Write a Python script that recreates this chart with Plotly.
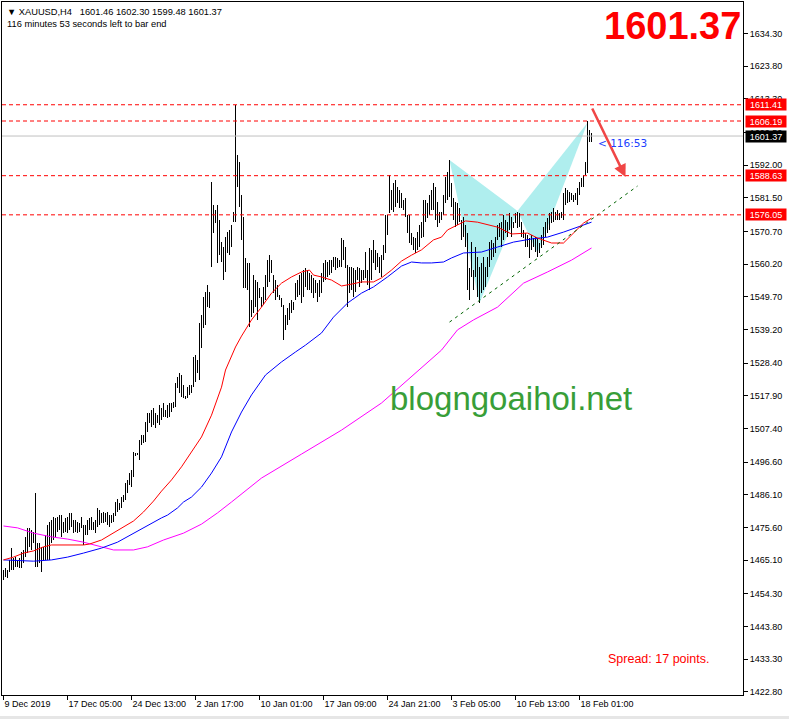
import plotly.graph_objects as go

# ---------------- data ----------------
highs = [
    1462.0, 1462.6, 1462.0, 1465.2, 1469.0, 1465.8, 1466.1, 1465.2, 1465.8, 1467.7,
    1468.4, 1472.6, 1475.5, 1475.5, 1474.8, 1474.2, 1486.7, 1470.6, 1470.6, 1469.4,
    1469.4, 1473.2, 1476.4, 1477.4, 1478.0, 1479.0, 1478.7, 1479.0, 1479.6, 1479.6,
    1477.4, 1478.7, 1479.0, 1480.3, 1480.3, 1478.0, 1478.0, 1477.4, 1477.1, 1479.0,
    1476.4, 1476.4, 1478.0, 1478.7, 1479.0, 1477.4, 1478.0, 1481.9, 1481.2, 1480.3,
    1480.6, 1480.3, 1480.6, 1479.6, 1479.6, 1480.3, 1483.8, 1484.8, 1483.5, 1485.4,
    1486.1, 1489.9, 1490.9, 1493.1, 1494.1, 1499.9, 1499.6, 1499.6, 1503.7, 1505.3,
    1505.3, 1509.5, 1512.4, 1512.4, 1513.4, 1514.0, 1512.4, 1511.8, 1515.0, 1514.0,
    1515.6, 1513.4, 1515.0, 1515.6, 1515.6, 1515.9, 1522.0, 1524.0, 1525.2, 1524.6,
    1521.4, 1517.9, 1520.7, 1521.4, 1521.4, 1530.4, 1531.0, 1529.4, 1541.3, 1543.9,
    1549.7, 1551.3, 1553.5, 1551.3, 1586.6, 1579.2, 1577.6, 1579.2, 1574.4, 1567.3,
    1565.7, 1568.9, 1570.5, 1571.2, 1572.8, 1577.0, 1611.41, 1595.3, 1593.0, 1582.4,
    1575.4, 1562.2, 1560.6, 1560.6, 1548.7, 1556.7, 1555.1, 1554.5, 1552.5, 1549.7,
    1552.9, 1556.7, 1561.5, 1563.1, 1561.5, 1556.7, 1555.1, 1553.5, 1550.3, 1549.3,
    1547.1, 1543.9, 1546.1, 1547.7, 1548.7, 1548.1, 1554.1, 1555.1, 1556.7, 1557.4,
    1558.3, 1559.0, 1558.3, 1557.4, 1556.7, 1555.8, 1555.1, 1554.1, 1555.1, 1557.4,
    1560.6, 1561.5, 1560.9, 1561.5, 1561.5, 1562.5, 1562.5, 1562.2, 1561.5, 1568.6,
    1568.0, 1565.7, 1559.9, 1559.3, 1559.3, 1559.0, 1558.3, 1559.3, 1559.0, 1558.3,
    1558.3, 1564.1, 1558.3, 1565.4, 1564.8, 1568.0, 1564.8, 1563.8, 1562.5, 1563.1,
    1566.4, 1576.0, 1576.0, 1588.9, 1584.0, 1586.3, 1587.2, 1585.0, 1584.0, 1583.1,
    1580.8, 1581.5, 1576.0, 1576.0, 1570.2, 1568.9, 1568.6, 1570.5, 1572.8, 1573.7,
    1580.8, 1580.8, 1579.9, 1582.4, 1584.0, 1586.3, 1585.0, 1580.2, 1577.0, 1577.0,
    1582.4, 1588.2, 1589.8, 1593.7, 1586.3, 1581.5, 1580.2, 1579.9, 1578.2, 1574.4,
    1575.4, 1572.8, 1570.2, 1559.0, 1567.3, 1558.3, 1565.7, 1562.5, 1559.3, 1560.6,
    1562.5, 1559.3, 1562.5, 1567.3, 1568.0, 1567.0, 1568.9, 1572.8, 1573.4, 1573.7,
    1576.0, 1574.4, 1573.7, 1576.6, 1575.4, 1573.7, 1576.6, 1577.0, 1576.6, 1573.7,
    1571.2, 1570.2, 1569.6, 1568.6, 1569.6, 1568.6, 1568.9, 1568.6, 1567.0, 1569.6,
    1572.1, 1573.7, 1575.0, 1576.6, 1577.0, 1578.2, 1577.0, 1577.6, 1576.6, 1577.0,
    1583.1, 1584.7, 1584.0, 1583.4, 1583.1, 1582.4, 1583.1, 1584.7, 1586.6, 1587.9,
    1588.9, 1593.0, 1606.19, 1603.3, 1602.30,
]
lows = [
    1458.8, 1459.7, 1459.4, 1461.3, 1462.0, 1462.0, 1462.9, 1462.9, 1462.6, 1462.6,
    1464.2, 1466.1, 1467.4, 1469.4, 1468.4, 1470.6, 1462.9, 1462.9, 1464.2, 1461.3,
    1465.2, 1465.2, 1465.2, 1465.2, 1470.6, 1471.6, 1472.6, 1474.2, 1474.8, 1472.6,
    1473.9, 1474.2, 1473.9, 1474.8, 1475.8, 1473.9, 1474.2, 1473.9, 1474.2, 1475.5,
    1470.0, 1473.2, 1473.2, 1474.8, 1474.8, 1474.8, 1473.9, 1475.8, 1476.4, 1477.1,
    1477.1, 1477.4, 1476.4, 1475.8, 1477.1, 1477.4, 1479.3, 1480.6, 1481.2, 1481.9,
    1483.8, 1484.5, 1486.7, 1489.3, 1488.6, 1491.8, 1498.6, 1498.9, 1497.3, 1502.1,
    1502.8, 1503.1, 1506.3, 1509.2, 1507.9, 1508.6, 1507.6, 1509.2, 1508.6, 1510.1,
    1511.1, 1511.1, 1510.8, 1511.1, 1512.7, 1514.0, 1514.3, 1520.4, 1518.8, 1517.5,
    1517.2, 1516.9, 1517.2, 1518.2, 1518.8, 1520.7, 1522.3, 1525.2, 1523.0, 1533.3,
    1539.7, 1540.7, 1546.4, 1546.1, 1559.3, 1570.2, 1573.4, 1560.6, 1563.1, 1560.9,
    1555.1, 1557.7, 1563.8, 1563.1, 1565.7, 1573.7, 1573.7, 1585.0, 1578.6, 1568.0,
    1552.5, 1552.5, 1551.9, 1540.0, 1543.2, 1544.5, 1546.4, 1542.3, 1549.3, 1546.4,
    1547.1, 1548.7, 1552.9, 1554.5, 1557.4, 1550.9, 1548.7, 1549.7, 1548.7, 1546.4,
    1535.8, 1539.1, 1540.7, 1542.3, 1544.5, 1545.5, 1548.7, 1549.7, 1550.3, 1547.7,
    1549.7, 1552.9, 1551.9, 1551.9, 1550.9, 1549.3, 1550.9, 1548.1, 1549.7, 1550.9,
    1554.5, 1555.1, 1556.1, 1556.7, 1557.4, 1559.3, 1558.3, 1559.0, 1559.3, 1559.3,
    1561.5, 1559.0, 1546.4, 1550.9, 1551.9, 1549.7, 1551.3, 1555.1, 1552.9, 1554.1,
    1555.1, 1555.8, 1553.5, 1551.9, 1555.1, 1560.6, 1558.3, 1559.3, 1557.4, 1556.1,
    1561.5, 1563.8, 1569.6, 1576.6, 1577.6, 1577.0, 1578.6, 1579.8, 1578.3, 1578.3,
    1577.6, 1575.4, 1570.2, 1567.0, 1566.4, 1564.8, 1563.8, 1564.8, 1565.7, 1568.6,
    1568.9, 1573.7, 1575.0, 1576.0, 1577.6, 1577.6, 1574.4, 1572.1, 1573.4, 1574.4,
    1576.0, 1579.9, 1580.8, 1581.8, 1578.6, 1574.4, 1572.1, 1572.8, 1573.7, 1568.0,
    1568.9, 1565.7, 1551.9, 1548.7, 1556.1, 1551.9, 1556.1, 1549.7, 1547.7, 1550.9,
    1551.9, 1552.9, 1556.1, 1559.3, 1561.5, 1562.5, 1563.8, 1568.0, 1568.9, 1565.7,
    1568.0, 1570.2, 1568.9, 1571.2, 1568.9, 1571.8, 1573.4, 1571.8, 1572.1, 1568.9,
    1568.6, 1565.7, 1565.7, 1562.2, 1564.8, 1565.7, 1564.1, 1562.5, 1563.8, 1565.4,
    1566.4, 1568.9, 1570.2, 1571.2, 1573.4, 1573.7, 1574.4, 1574.4, 1574.4, 1575.0,
    1574.4, 1579.2, 1579.9, 1580.2, 1580.8, 1580.2, 1580.8, 1579.2, 1582.4, 1585.0,
    1585.0, 1588.9, 1589.5, 1599.5, 1599.48,
]
bar_index = list(range(len(highs)))

x_tick_index = [0, 32, 64, 96, 128, 160, 192, 224, 256, 288]
x_tick_labels = ["9 Dec 2019", "17 Dec 05:00", "24 Dec 13:00", "2 Jan 17:00",
                 "10 Jan 01:00", "17 Jan 09:00", "24 Jan 21:00", "3 Feb 05:00",
                 "10 Feb 13:00", "18 Feb 01:00"]
y_tick_values = [1634.30, 1623.80, 1613.30, 1602.50, 1592.00, 1581.50, 1570.70,
                 1560.20, 1549.70, 1539.20, 1528.40, 1517.90, 1507.40, 1496.60,
                 1486.10, 1475.60, 1465.10, 1454.30, 1443.80, 1433.30, 1422.80]

ma_red_x = [0, 5, 10, 15, 20, 24, 40, 43, 49, 54, 60, 65, 70, 75, 79, 84, 89, 94, 99,
            104, 109, 111, 114, 116, 119, 124, 129, 134, 139, 144, 149, 153, 155, 159,
            164, 169, 174, 179, 185, 189, 194, 199, 204, 209, 215, 219, 222, 227, 231,
            237, 247, 254, 262, 267, 274, 280, 285, 290, 294]
ma_red_y = [1465.2, 1466.1, 1467.4, 1468.1, 1469.4, 1470.0, 1470.0, 1470.3, 1471.6,
            1473.5, 1475.8, 1477.7, 1480.6, 1484.1, 1487.3, 1490.9, 1495.1, 1499.9,
            1504.7, 1511.7, 1520.7, 1526.2, 1530.4, 1533.6, 1537.1, 1542.3, 1546.4,
            1550.9, 1554.1, 1556.1, 1557.7, 1558.3, 1556.7, 1556.1, 1555.1, 1553.2,
            1553.8, 1554.5, 1554.5, 1555.8, 1558.3, 1561.2, 1563.1, 1564.8, 1568.0,
            1568.9, 1571.2, 1572.8, 1574.1, 1573.7, 1572.1, 1569.9, 1570.2, 1568.6,
            1567.0, 1567.0, 1570.2, 1573.4, 1575.0]

ma_blue_x = [0, 15, 24, 32, 40, 49, 57, 65, 74, 79, 82, 87, 90, 94, 99, 104, 109, 114,
             119, 124, 131, 139, 146, 151, 159, 165, 172, 179, 185, 192, 199, 204, 209,
             214, 220, 224, 230, 239, 247, 255, 264, 272, 280, 287, 294]
ma_blue_y = [1465.2, 1464.8, 1465.2, 1466.1, 1467.4, 1469.0, 1470.9, 1473.8, 1477.1,
             1478.7, 1479.6, 1481.9, 1483.8, 1485.4, 1488.6, 1493.1, 1498.3, 1506.3,
             1512.7, 1518.2, 1524.6, 1528.8, 1532.0, 1534.2, 1538.1, 1543.2, 1547.7,
             1550.9, 1552.9, 1556.1, 1559.6, 1560.9, 1560.6, 1560.6, 1560.9, 1562.2,
             1563.8, 1564.1, 1565.7, 1567.3, 1568.3, 1568.9, 1570.5, 1572.1, 1573.7]

ma_magenta_x = [0, 7, 15, 24, 32, 40, 49, 55, 65, 72, 80, 90, 99, 107, 114, 129, 149,
                169, 189, 209, 219, 227, 235, 247, 260, 272, 284, 294]
ma_magenta_y = [1476.1, 1475.5, 1473.8, 1472.6, 1471.9, 1470.9, 1469.4, 1468.4, 1468.4,
                1469.4, 1471.6, 1473.8, 1476.7, 1480.3, 1483.8, 1491.5, 1499.2, 1506.9,
                1515.6, 1526.8, 1532.6, 1539.1, 1542.3, 1546.4, 1554.1, 1557.7, 1561.5,
                1565.4]

levels_red = [1611.41, 1606.19, 1588.63, 1576.05]
bid_price = 1601.37

pattern_x = [223, 238, 257, 267, 292]
pattern_y = [1593.7, 1547.7, 1577.3, 1563.8, 1605.6]

trend_x = [223, 317]
trend_y = [1541.6, 1585.3]

arrow_x = [294, 311]
arrow_y = [1610.7, 1588.2]

# ---------------- layout helpers ----------------
W, H = 789, 719
ML, MR, MT, MB = 2, 46, 2, 24
PW, PH = W - ML - MR, H - MT - MB


def px(x):
    return (x - ML) / PW


def py(y):
    return (H - MB - y) / PH


FONT = "Liberation Sans, Arial, DejaVu Sans, sans-serif"

fig = go.Figure()

# bars
fig.add_trace(go.Bar(
    x=bar_index, y=[h - l for h, l in zip(highs, lows)], base=lows,
    width=0.5, marker=dict(color="black", line=dict(width=0)),
    hoverinfo="skip"))

# moving averages
fig.add_trace(go.Scatter(x=ma_magenta_x, y=ma_magenta_y, mode="lines",
                         line=dict(color="#ff00ff", width=1)))
fig.add_trace(go.Scatter(x=ma_blue_x, y=ma_blue_y, mode="lines",
                         line=dict(color="#0000ff", width=1)))
fig.add_trace(go.Scatter(x=ma_red_x, y=ma_red_y, mode="lines",
                         line=dict(color="#ff0000", width=1)))

# trend line
fig.add_trace(go.Scatter(x=trend_x, y=trend_y, mode="lines",
                         line=dict(color="#006400", width=1, dash="3px,4px")))

shapes = []
# harmonic pattern triangles (background)
for a, b, c in [(0, 1, 2), (2, 3, 4)]:
    path = "M {},{} L {},{} L {},{} Z".format(pattern_x[a], pattern_y[a],
                                             pattern_x[b], pattern_y[b],
                                             pattern_x[c], pattern_y[c])
    shapes.append(dict(type="path", path=path, xref="x", yref="y",
                       fillcolor="rgb(175,238,238)", line=dict(width=0),
                       layer="below"))
# level lines
for lv in levels_red:
    shapes.append(dict(type="line", xref="paper", x0=0, x1=1, yref="y", y0=lv, y1=lv,
                       line=dict(color="#ff0000", width=1, dash="4px,3px")))
shapes.append(dict(type="line", xref="paper", x0=0, x1=1, yref="y", y0=bid_price,
                   y1=bid_price, line=dict(color="#c0c0c0", width=1)))
# bottom grey strip
shapes.append(dict(type="rect", xref="paper", yref="paper", x0=px(0), x1=px(W),
                   y0=py(719), y1=py(716), fillcolor="#e6e6e6", line=dict(width=0)))

annotations = []
# right price labels
for lv in levels_red:
    annotations.append(dict(xref="paper", x=1, xanchor="left", xshift=2, yref="y", y=lv,
                            yanchor="middle", text="{:.2f}".format(lv), showarrow=False,
                            font=dict(family=FONT, size=9, color="white"),
                            bgcolor="#ff0000", width=38, height=9, borderpad=1))
annotations.append(dict(xref="paper", x=1, xanchor="left", xshift=2, yref="y", y=bid_price,
                        yanchor="middle", text="{:.2f}".format(bid_price), showarrow=False,
                        font=dict(family=FONT, size=9, color="white"),
                        bgcolor="black", width=38, height=9, borderpad=1))
# red arrow
annotations.append(dict(x=arrow_x[1], y=arrow_y[1], ax=arrow_x[0], ay=arrow_y[0],
                        xref="x", yref="y", axref="x", ayref="y", showarrow=True,
                        arrowhead=2, arrowsize=1, arrowwidth=2.5,
                        arrowcolor="rgb(240,70,70)", text=""))
# texts
annotations.append(dict(xref="paper", yref="paper", x=px(5), y=py(12), xanchor="left",
                        yanchor="middle", showarrow=False,
                        text="\u25bc XAUUSD,H4\u00a0\u00a0 1601.46 1602.30 1599.48 1601.37",
                        font=dict(family=FONT, size=9.3, color="black")))
annotations.append(dict(xref="paper", yref="paper", x=px(5), y=py(24), xanchor="left",
                        yanchor="middle", showarrow=False,
                        text="116 minutes 53 seconds left to bar end",
                        font=dict(family=FONT, size=9.3, color="black")))
annotations.append(dict(xref="paper", yref="paper", x=px(743), y=py(26), xanchor="right",
                        yanchor="middle", showarrow=False, text="<b>1601.37</b>",
                        font=dict(family=FONT, size=38, color="#ff0000")))
annotations.append(dict(xref="paper", yref="paper", x=px(511), y=py(398), xanchor="center",
                        yanchor="middle", showarrow=False, text="blogngoaihoi.net",
                        font=dict(family=FONT, size=33, color="rgb(56,158,56)")))
annotations.append(dict(xref="paper", yref="paper", x=px(606), y=py(659), xanchor="left",
                        yanchor="middle", showarrow=False, text="Spread: 17 points.",
                        font=dict(family=FONT, size=12.5, color="#ff0000")))
annotations.append(dict(xref="paper", yref="paper", x=px(596), y=py(143), xanchor="left",
                        yanchor="middle", showarrow=False, text="&lt;\u00a0116:53",
                        font=dict(family="DejaVu Sans, sans-serif", size=10.5,
                                  color="#2040ff")))

fig.update_layout(
    width=W, height=H, margin=dict(l=ML, r=MR, t=MT, b=MB, pad=0),
    paper_bgcolor="white", plot_bgcolor="white", showlegend=False,
    bargap=0, shapes=shapes, annotations=annotations,
    xaxis=dict(range=[-0.75, 369.75], tickvals=x_tick_index, ticktext=x_tick_labels,
               ticks="outside", ticklen=4, tickcolor="black", tickwidth=1,
               showline=True, linecolor="black", linewidth=1, mirror=True,
               showgrid=False, zeroline=False, ticklabelposition="outside right",
               tickfont=dict(family=FONT, size=9, color="black"), fixedrange=True),
    yaxis=dict(range=[1421.81, 1644.42], side="right", tickvals=y_tick_values,
               ticktext=["{:.2f}".format(v) for v in y_tick_values],
               ticks="outside", ticklen=4, tickcolor="black", tickwidth=1,
               showline=True, linecolor="black", linewidth=1, mirror=True,
               showgrid=False, zeroline=False,
               tickfont=dict(family=FONT, size=9, color="black"), fixedrange=True),
)

fig.write_html("out.html", config={"displayModeBar": False},
               post_script="document.body.style.margin='0';"
                           "document.body.style.overflow='hidden';")
